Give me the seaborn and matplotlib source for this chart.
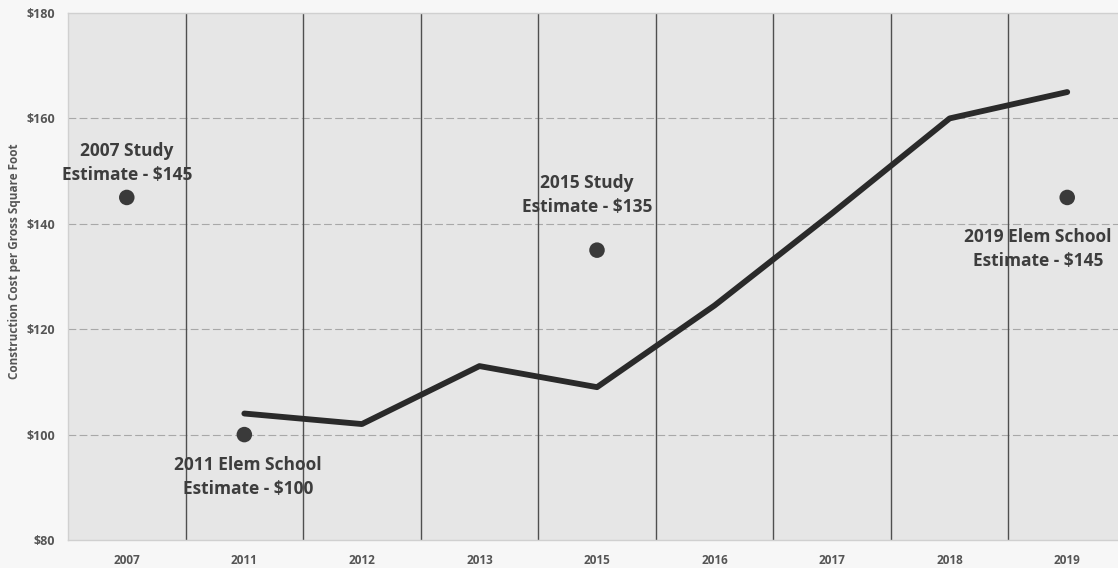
import matplotlib
matplotlib.use("Agg")
import matplotlib.pyplot as plt
import seaborn as sns
import pandas as pd

# ---- data ----
categories = ["2007", "2011", "2012", "2013", "2015", "2016", "2017", "2018", "2019"]
line_years = ["2011", "2012", "2013", "2015", "2016", "2017", "2018", "2019"]
line_values = [104, 102, 113, 109, 124.5, 142, 160, 165]
point_years = ["2007", "2011", "2015", "2019"]
point_values = [145, 100, 135, 145]
point_labels = ["2007 Study\nEstimate - $145",
                "2011 Elem School\nEstimate - $100",
                "2015 Study\nEstimate - $135",
                "2019 Elem School\nEstimate - $145"]
label_y = [151.5, 91.9, 145.5, 135.2]
label_dx = [0.0, 0.03, -0.085, -0.25]
y_ticks = [80, 100, 120, 140, 160, 180]
y_tick_labels = ["$80", "$100", "$120", "$140", "$160", "$180"]
y_title = "Construction Cost per Gross Square Foot"

sns.set_theme(style="white")
plt.rcParams["font.family"] = ["Open Sans", "DejaVu Sans"]

pos = {c: i for i, c in enumerate(categories)}
df_line = pd.DataFrame({"x": [pos[y] for y in line_years], "y": line_values})
df_pts = pd.DataFrame({"x": [pos[y] for y in point_years], "y": point_values})

fig = plt.figure(figsize=(11.18, 5.68), dpi=100, facecolor="#f7f7f7")
ax = fig.add_axes([68 / 1118, 1 - 540 / 568, 1058 / 1118, 527 / 568])
ax.set_facecolor("#e6e6e6")

# grid
for v in y_ticks[1:-1]:
    ax.axhline(v, color="#a8a8a8", lw=0.8, ls=(0, (7, 3)), zorder=1)
for i in range(len(categories) - 1):
    ax.axvline(i + 0.5, color="#4f4f4f", lw=1.0, zorder=1)

sns.lineplot(data=df_line, x="x", y="y", ax=ax, color="#2a2a2a", lw=4.2,
             solid_capstyle="round", solid_joinstyle="round", zorder=3)
sns.scatterplot(data=df_pts, x="x", y="y", ax=ax, color="#3a3a3a", s=125,
                edgecolor="none", zorder=4)

for yr, txt, ly, dx in zip(point_years, point_labels, label_y, label_dx):
    ax.text(pos[yr] + dx, ly, txt, ha="center", va="center", fontsize=12.5,
            fontweight="bold", color="#3d3d3d", linespacing=1.4, zorder=5)

ax.set_xlim(-0.5, len(categories) - 0.5)
ax.set_ylim(80, 180)
ax.set_xticks(range(len(categories)))
ax.set_xticklabels(categories, fontsize=8.5, fontweight="bold", color="#555555")
ax.set_yticks(y_ticks)
ax.set_yticklabels(y_tick_labels, fontsize=9, fontweight="bold", color="#555555")
ax.tick_params(axis="x", length=0, pad=10)
ax.tick_params(axis="y", length=0, pad=9.5)
ax.set_xlabel("")
ax.set_ylabel(y_title, fontsize=8.5, fontweight="bold", color="#555555")
ax.yaxis.set_label_coords((21 - 68) / 1058, (540 - 261) / 527)

for s in ["top", "bottom", "left"]:
    ax.spines[s].set_color("#d0d0d0")
    ax.spines[s].set_linewidth(1.0)
ax.spines["right"].set_visible(False)

fig.savefig("out.png", dpi=100, facecolor=fig.get_facecolor())
